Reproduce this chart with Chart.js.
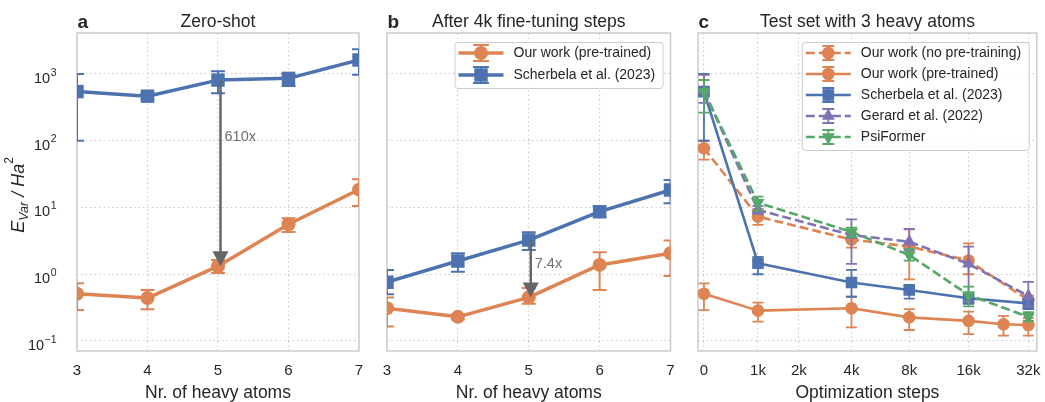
<!DOCTYPE html>
<html>
<head>
<meta charset="utf-8">
<script src="https://cdn.jsdelivr.net/npm/chart.js@4.4.1/dist/chart.umd.min.js"></script>
<style>
  html, body { margin: 0; padding: 0; background: #fff; }
  #wrap { position: relative; width: 1045px; height: 402px; }
  .panel { position: absolute; top: 0; height: 402px; }
</style>
</head>
<body>
<div id="wrap">
  <div class="panel" style="left:0;width:370px"><canvas id="ca"></canvas></div>
  <div class="panel" style="left:370px;width:310px"><canvas id="cb"></canvas></div>
  <div class="panel" style="left:680px;width:365px"><canvas id="cc"></canvas></div>
</div>
<script>
// ---- data ----
const atoms = [3, 4, 5, 6, 7];

// a: zero-shot
const zeroOurs      = [0.51, 0.44, 1.32, 5.6, 18.5];
const zeroOursLo    = [0.29, 0.30, 1.04, 4.3, 10.5];
const zeroOursHi    = [0.73, 0.58, 1.63, 6.9, 26.5];
const zeroScherbela   = [545, 465, 810, 860, 1620];
const zeroScherbelaLo = [100, 420, 515, 660, 970];
const zeroScherbelaHi = [1000, 520, 1100, 1000, 2350];

// b: after 4k fine-tuning steps
const ftOurs      = [0.31, 0.23, 0.45, 1.38, 2.06];
const ftOursLo    = [0.165, 0.21, 0.36, 0.58, 0.94];
const ftOursHi    = [0.45, 0.25, 0.62, 2.13, 3.2];
const ftScherbela   = [0.76, 1.58, 3.25, 8.65, 18.3];
const ftScherbelaLo = [0.5, 1.09, 2.3, 7.3, 11.6];
const ftScherbelaHi = [1.16, 2.06, 4.25, 10.3, 25.8];

// c: test set with 3 heavy atoms
const steps    = [0, 1000, 4000, 8000, 16000, 32000];
const stepsPre = [0, 1000, 4000, 8000, 16000, 24000, 32000];
const stepTicks      = [0, 1000, 2000, 4000, 8000, 16000, 32000];
const stepTickLabels = ['0', '1k', '2k', '4k', '8k', '16k', '32k'];

const noPre   = [77, 7.3, 3.3, 2.6, 1.6, 0.41];
const noPreLo = [52, 5.5, 2.5, 0.84, 1.0, 0.35];
const noPreHi = [100, 9.5, 4.2, 4.7, 2.9, 0.48];
const pre   = [0.51, 0.285, 0.309, 0.226, 0.20, 0.178, 0.174];
const preLo = [0.29, 0.195, 0.16, 0.146, 0.127, 0.12, 0.12];
const preHi = [0.73, 0.375, 0.46, 0.30, 0.275, 0.237, 0.22];
const scherbela   = [545, 1.46, 0.75, 0.58, 0.436, 0.366];
const scherbelaLo = [100, 1.0, 0.46, 0.43, 0.36, 0.3];
const scherbelaHi = [1000, 1.82, 1.16, 0.69, 0.5, 0.42];
const gerard   = [560, 9.2, 3.87, 3.07, 1.43, 0.47];
const gerardLo = [370, 8.0, 1.43, 2.3, 0.39, 0.33];
const gerardHi = [970, 10.5, 6.65, 4.76, 2.59, 0.77];
const psi   = [543, 11.8, 4.3, 1.94, 0.49, 0.23];
const psiLo = [263, 9.0, 3.6, 1.6, 0.33, 0.2];
const psiHi = [813, 14.5, 5.0, 2.4, 0.65, 0.27];

const yTickValues = [0.1, 1, 10, 100, 1000];
const yTickExps   = ['\u22121', '0', '1', '2', '3'];

// ---- style ----
const FONT = "'Liberation Sans', Arial, Helvetica, sans-serif";
const TEXT = '#262626';
const FRAME = '#cccccc';
const GRID = '#c6c6c6';
const BLUE = '#4C72B0', ORANGE = '#DD8452', GREEN = '#55A868', PURPLE = '#8172B3';
const ARROW = '#666666';
const DASH = [9, 4];

const yMin = Math.pow(10, -1.15);
const yMax = Math.pow(10, 3.614);
const stepX = s => Math.asinh(s / 1500);   // asinh axis for optimisation steps

Chart.defaults.font.family = FONT;
Chart.defaults.color = TEXT;

function series(label, xs, ys, lo, hi, color, style, o) {
  return {
    label: label,
    data: xs.map((x, i) => ({ x: x, y: ys[i] })),
    errLo: lo, errHi: hi,
    borderColor: color, backgroundColor: color,
    pointBackgroundColor: color, pointBorderColor: color,
    borderWidth: o.lw, borderDash: o.dash || [],
    borderJoinStyle: 'round',
    pointStyle: style, pointRadius: o.r, pointRotation: o.rot || 0, pointBorderWidth: 0,
    tension: 0, fill: false, clip: 0, order: o.order || 0
  };
}

function markerPath(ctx, style, r, rot, x, y) {
  ctx.beginPath();
  if (style === 'circle') {
    ctx.arc(x, y, r, 0, Math.PI * 2);
  } else if (style === 'rect') {
    const s = r * Math.SQRT1_2;
    ctx.rect(x - s, y - s, 2 * s, 2 * s);
  } else {
    let a = (rot || 0) * Math.PI / 180;
    for (let k = 0; k < 3; k++) {
      const px = x + Math.sin(a) * r, py = y - Math.cos(a) * r;
      if (k === 0) ctx.moveTo(px, py); else ctx.lineTo(px, py);
      a += Math.PI * 2 / 3;
    }
    ctx.closePath();
  }
}

function drawErrorBars(chart, ds, meta, cap, lw) {
  const ctx = chart.ctx, ys = chart.scales.y, a = chart.chartArea;
  ctx.save();
  ctx.beginPath();
  ctx.rect(a.left, a.top, a.right - a.left, a.bottom - a.top);
  ctx.clip();
  ctx.strokeStyle = ds.borderColor;
  ctx.lineWidth = lw;
  ctx.setLineDash([]);
  meta.data.forEach((pt, i) => {
    const y1 = ys.getPixelForValue(ds.errLo[i]);
    const y2 = ys.getPixelForValue(ds.errHi[i]);
    ctx.beginPath();
    ctx.moveTo(pt.x, y1); ctx.lineTo(pt.x, y2);
    ctx.moveTo(pt.x - cap, y1); ctx.lineTo(pt.x + cap, y1);
    ctx.moveTo(pt.x - cap, y2); ctx.lineTo(pt.x + cap, y2);
    ctx.stroke();
  });
  ctx.restore();
}

function drawLegend(chart, lg) {
  const ctx = chart.ctx, a = chart.chartArea;
  const right = a.right - 8, top = a.top + 9;
  const left = right - lg.width;
  const h = 11 + (lg.items.length - 1) * lg.row + 13;
  ctx.save();
  ctx.fillStyle = 'rgba(255,255,255,0.85)';
  ctx.strokeStyle = FRAME;
  ctx.lineWidth = 1;
  ctx.beginPath();
  ctx.roundRect(left + 0.5, top + 0.5, lg.width, h, 3);
  ctx.fill();
  ctx.stroke();
  lg.items.forEach((it, i) => {
    const y = top + 11 + i * lg.row;
    const x0 = left + 4, x1 = left + 49, xm = (x0 + x1) / 2;
    ctx.strokeStyle = it.color;
    ctx.fillStyle = it.color;
    ctx.lineWidth = lg.lw;
    ctx.setLineDash(it.dash ? DASH : []);
    ctx.beginPath(); ctx.moveTo(x0, y); ctx.lineTo(x1, y); ctx.stroke();
    ctx.setLineDash([]);
    ctx.lineWidth = lg.errW;
    ctx.beginPath();
    ctx.moveTo(xm, y - lg.errH); ctx.lineTo(xm, y + lg.errH);
    ctx.moveTo(xm - lg.cap, y - lg.errH); ctx.lineTo(xm + lg.cap, y - lg.errH);
    ctx.moveTo(xm - lg.cap, y + lg.errH); ctx.lineTo(xm + lg.cap, y + lg.errH);
    ctx.stroke();
    markerPath(ctx, it.style, it.r, it.rot, xm, y);
    ctx.fill();
    ctx.fillStyle = TEXT;
    ctx.font = '14px ' + FONT;
    ctx.textAlign = 'left';
    ctx.textBaseline = 'middle';
    ctx.fillText(it.label, left + 59, y + 0.5);
  });
  ctx.restore();
}

function drawArrow(chart, ar) {
  const ctx = chart.ctx, xs = chart.scales.x, ys = chart.scales.y;
  const x = xs.getPixelForValue(ar.x) + ar.dx;
  const y1 = ys.getPixelForValue(ar.from);
  const y2 = ys.getPixelForValue(ar.to);
  const hl = 15, hw = 8;
  ctx.save();
  ctx.strokeStyle = ARROW;
  ctx.fillStyle = ARROW;
  ctx.lineWidth = 2.5;
  ctx.beginPath(); ctx.moveTo(x, y1); ctx.lineTo(x, y2 - hl + 1); ctx.stroke();
  ctx.beginPath();
  ctx.moveTo(x - hw, y2 - hl); ctx.lineTo(x + hw, y2 - hl); ctx.lineTo(x, y2);
  ctx.closePath(); ctx.fill();
  ctx.fillStyle = '#6e6e6e';
  ctx.font = '14.5px ' + FONT;
  ctx.textAlign = 'left';
  ctx.textBaseline = 'middle';
  ctx.fillText(ar.label, x + 4, ys.getPixelForValue(ar.labelAt));
  ctx.restore();
}

function drawYTicks(chart) {
  const ctx = chart.ctx, ys = chart.scales.y;
  const xr = 56.5;
  ctx.save();
  ctx.fillStyle = TEXT;
  ctx.textAlign = 'left';
  ctx.textBaseline = 'alphabetic';
  yTickValues.forEach((v, i) => {
    const y = ys.getPixelForValue(v);
    ctx.font = '10.5px ' + FONT;
    const ew = ctx.measureText(yTickExps[i]).width;
    ctx.font = '14.5px ' + FONT;
    const bw = ctx.measureText('10').width;
    ctx.fillText('10', xr - ew - bw - 0.5, y + 8.8);
    ctx.font = '10.5px ' + FONT;
    ctx.fillText(yTickExps[i], xr - ew, y + 1.6);
  });
  ctx.restore();
}

function drawYTitle(chart) {
  const ctx = chart.ctx;
  const parts = [
    { t: 'E', f: 'italic 18px ', dy: 0 },
    { t: 'Var', f: 'italic 12.5px ', dy: 4 },
    { t: ' / Ha', f: 'italic 18px ', dy: 0 },
    { t: '2', f: '12px ', dy: -11 }
  ];
  ctx.save();
  let total = 0;
  parts.forEach(p => { ctx.font = p.f + FONT; p.w = ctx.measureText(p.t).width; total += p.w; });
  ctx.translate(24, 195);
  ctx.rotate(-Math.PI / 2);
  ctx.fillStyle = TEXT;
  ctx.textAlign = 'left';
  ctx.textBaseline = 'alphabetic';
  let x = -total / 2;
  parts.forEach(p => { ctx.font = p.f + FONT; ctx.fillText(p.t, x, p.dy); x += p.w; });
  ctx.restore();
}

const decor = {};

const decorPlugin = {
  id: 'decor',
  beforeDatasetsDraw(chart) {
    const ctx = chart.ctx, a = chart.chartArea;
    ctx.save();
    ctx.strokeStyle = FRAME;
    ctx.lineWidth = 1.5;
    ctx.strokeRect(a.left, a.top, a.right - a.left, a.bottom - a.top);
    ctx.restore();
  },
  afterDatasetDraw(chart, args) {
    const d = decor[chart.canvas.id];
    const ds = chart.data.datasets[args.index];
    if (d && ds.errLo) drawErrorBars(chart, ds, args.meta, d.cap, d.errW);
  },
  afterDraw(chart) {
    const d = decor[chart.canvas.id];
    if (!d) return;
    const ctx = chart.ctx, a = chart.chartArea;
    ctx.save();
    ctx.fillStyle = TEXT;
    ctx.textBaseline = 'alphabetic';
    ctx.font = '17.5px ' + FONT;
    ctx.textAlign = 'center';
    ctx.fillText(d.title, (a.left + a.right) / 2, 26.5);
    ctx.font = 'bold 19px ' + FONT;
    ctx.textAlign = 'left';
    ctx.fillText(d.letter, a.left + 0.5, 28);
    ctx.restore();
    if (d.arrow) drawArrow(chart, d.arrow);
    if (d.legend) drawLegend(chart, d.legend);
    if (d.yLabels) { drawYTicks(chart); drawYTitle(chart); }
  }
};
Chart.register(decorPlugin);

function options(o) {
  return {
    responsive: true,
    maintainAspectRatio: false,
    animation: false,
    events: [],
    layout: { padding: { left: 0, right: o.padRight, top: 33, bottom: 0 } },
    plugins: { legend: { display: false }, tooltip: { enabled: false }, title: { display: false } },
    scales: {
      x: Object.assign({
        type: 'linear',
        grid: { color: GRID, lineWidth: 1.1, drawTicks: false },
        border: { display: false, dash: [1.4, 3] },
        title: { display: true, text: o.xTitle, color: TEXT, padding: 0, font: { size: 17.5, lineHeight: 1 } },
        afterFit: s => { s.height = 51; s.paddingLeft = 0; s.paddingRight = 0; }
      }, o.x),
      y: {
        type: 'logarithmic',
        min: yMin, max: yMax,
        grid: { color: GRID, lineWidth: 1.1, drawTicks: false },
        border: { display: false, dash: [1.4, 3] },
        ticks: { display: false },
        afterBuildTicks: s => { s.ticks = yTickValues.map(v => ({ value: v, major: true })); },
        afterFit: s => { s.width = o.yWidth; s.paddingTop = 0; s.paddingBottom = 0; }
      }
    }
  };
}

const xTicks = { color: TEXT, padding: 11, font: { size: 15 } };

// ---- panel a ----
decor.ca = {
  title: 'Zero-shot', letter: 'a', cap: 7, errW: 2, yLabels: true,
  arrow: { x: 5, dx: 2.5, from: zeroScherbela[2], to: zeroOurs[2], label: '610x', labelAt: 113 }
};
new Chart(document.getElementById('ca'), {
  type: 'line',
  data: { datasets: [
    series('Our work (pre-trained)', atoms, zeroOurs, zeroOursLo, zeroOursHi, ORANGE, 'circle', { lw: 3.5, r: 7 }),
    series('Scherbela et al. (2023)', atoms, zeroScherbela, zeroScherbelaLo, zeroScherbelaHi, BLUE, 'rect', { lw: 3.5, r: 9.5 })
  ] },
  options: options({ padRight: 11, yWidth: 77, xTitle: 'Nr. of heavy atoms',
    x: { min: 3, max: 7, ticks: Object.assign({ stepSize: 1 }, xTicks) } })
});

// ---- panel b ----
decor.cb = {
  title: 'After 4k fine-tuning steps', letter: 'b', cap: 7, errW: 2,
  arrow: { x: 5, dx: 2, from: ftScherbela[2], to: ftOurs[2], label: '7.4x', labelAt: 1.4 },
  legend: { width: 208, row: 22, lw: 3.5, errW: 2, errH: 8, cap: 8, items: [
    { label: 'Our work (pre-trained)', color: ORANGE, style: 'circle', r: 7 },
    { label: 'Scherbela et al. (2023)', color: BLUE, style: 'rect', r: 9.5 }
  ] }
};
new Chart(document.getElementById('cb'), {
  type: 'line',
  data: { datasets: [
    series('Our work (pre-trained)', atoms, ftOurs, ftOursLo, ftOursHi, ORANGE, 'circle', { lw: 3.5, r: 7 }),
    series('Scherbela et al. (2023)', atoms, ftScherbela, ftScherbelaLo, ftScherbelaHi, BLUE, 'rect', { lw: 3.5, r: 9.5 })
  ] },
  options: options({ padRight: 9, yWidth: 17, xTitle: 'Nr. of heavy atoms',
    x: { min: 3, max: 7, ticks: Object.assign({ stepSize: 1 }, xTicks) } })
});

// ---- panel c ----
decor.cc = {
  title: 'Test set with 3 heavy atoms', letter: 'c', cap: 5.5, errW: 1.8,
  legend: { width: 227, row: 21, lw: 2.6, errW: 1.8, errH: 7, cap: 6, items: [
    { label: 'Our work (no pre-training)', color: ORANGE, style: 'circle', r: 6.3, dash: true },
    { label: 'Our work (pre-trained)', color: ORANGE, style: 'circle', r: 6.3 },
    { label: 'Scherbela et al. (2023)', color: BLUE, style: 'rect', r: 8.2 },
    { label: 'Gerard et al. (2022)', color: PURPLE, style: 'triangle', r: 7.5, dash: true },
    { label: 'PsiFormer', color: GREEN, style: 'triangle', r: 7.5, rot: 180, dash: true }
  ] }
};
const sx = steps.map(stepX), sxPre = stepsPre.map(stepX);
new Chart(document.getElementById('cc'), {
  type: 'line',
  data: { datasets: [
    series('Our work (no pre-training)', sx, noPre, noPreLo, noPreHi, ORANGE, 'circle', { lw: 2.6, r: 6.3, dash: DASH, order: 5 }),
    series('Our work (pre-trained)', sxPre, pre, preLo, preHi, ORANGE, 'circle', { lw: 2.6, r: 6.3, order: 4 }),
    series('Scherbela et al. (2023)', sx, scherbela, scherbelaLo, scherbelaHi, BLUE, 'rect', { lw: 2.6, r: 8.2, order: 3 }),
    series('Gerard et al. (2022)', sx, gerard, gerardLo, gerardHi, PURPLE, 'triangle', { lw: 2.6, r: 7.5, dash: DASH, order: 2 }),
    series('PsiFormer', sx, psi, psiLo, psiHi, GREEN, 'triangle', { lw: 2.6, r: 7.5, rot: 180, dash: DASH, order: 1 })
  ] },
  options: options({
    padRight: 7, yWidth: 18, xTitle: 'Optimization steps',
    x: {
      min: -0.069, max: 3.852,
      afterBuildTicks: s => { s.ticks = stepTicks.map(v => ({ value: stepX(v) })); },
      ticks: Object.assign({ callback: (v, i) => stepTickLabels[i] }, xTicks)
    }
  })
});
</script>
</body>
</html>
